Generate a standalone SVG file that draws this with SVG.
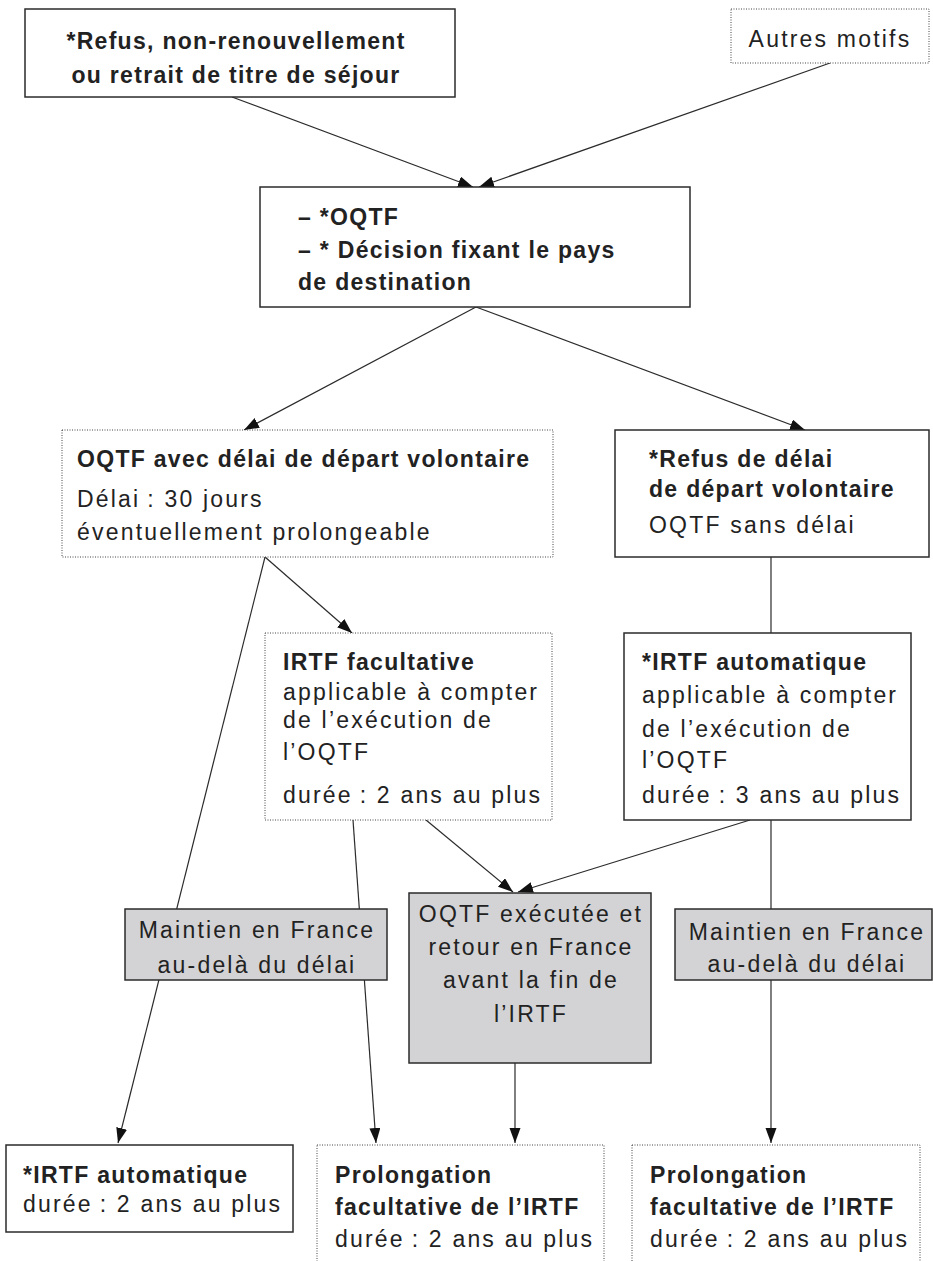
<svg xmlns="http://www.w3.org/2000/svg" width="933" height="1261" viewBox="0 0 933 1261">
<style>
  .solid { fill: #ffffff; stroke: #2b2b2b; stroke-width: 1.5; }
  .dotted { fill: #ffffff; stroke: #444; stroke-width: 1; stroke-dasharray: 1 1.5; }
  .gray { fill: #d3d3d5; stroke: #2b2b2b; stroke-width: 1.5; }
  .conn { stroke: #2b2b2b; stroke-width: 1.2; fill: none; }
  text { font-family: "Liberation Sans", Arial, sans-serif; font-size: 23px; fill: #222; }
  .b { font-weight: bold; letter-spacing: 1.3px; }
  .r { letter-spacing: 2.2px; }
  .c { text-anchor: middle; }
</style>
<defs>
  <marker id="arr" markerWidth="16" markerHeight="12" refX="15" refY="5.5" orient="auto" markerUnits="userSpaceOnUse">
    <path d="M0,0 L15,5.5 L0,11 Z" fill="#111"/>
  </marker>
</defs>
<g id="connectors">
  <line class="conn" x1="232" y1="97" x2="473" y2="187" marker-end="url(#arr)"/>
  <line class="conn" x1="830" y1="63" x2="479" y2="187" marker-end="url(#arr)"/>
  <line class="conn" x1="476" y1="307" x2="244" y2="430" marker-end="url(#arr)"/>
  <line class="conn" x1="476" y1="307" x2="805" y2="430" marker-end="url(#arr)"/>
  <line class="conn" x1="265" y1="557" x2="118" y2="1143" marker-end="url(#arr)"/>
  <line class="conn" x1="265" y1="557" x2="352" y2="633" marker-end="url(#arr)"/>
  <line class="conn" x1="771" y1="557" x2="771" y2="633"/>
  <line class="conn" x1="353" y1="820" x2="376" y2="1143" marker-end="url(#arr)"/>
  <line class="conn" x1="426" y1="820" x2="513" y2="892" marker-end="url(#arr)"/>
  <line class="conn" x1="750" y1="820" x2="518" y2="892" marker-end="url(#arr)"/>
  <line class="conn" x1="771" y1="820" x2="771" y2="1143" marker-end="url(#arr)"/>
  <line class="conn" x1="515" y1="1063" x2="515" y2="1143" marker-end="url(#arr)"/>
</g>
<g id="n-refus-titre">
  <rect class="solid" x="25" y="9" width="430" height="88"/>
  <text class="b c" x="236" y="49">*Refus, non-renouvellement</text>
  <text class="b c" x="236" y="83">ou retrait de titre de séjour</text>
</g>
<g id="n-autres-motifs">
  <rect class="dotted" x="731" y="9" width="198" height="54"/>
  <text class="r c" x="830" y="47">Autres motifs</text>
</g>
<g id="n-oqtf">
  <rect class="solid" x="260" y="187" width="430" height="120"/>
  <text class="b" x="298" y="225">– *OQTF</text>
  <text class="b" x="298" y="258">– * Décision fixant le pays</text>
  <text class="b" x="298" y="290">de destination</text>
</g>
<g id="n-oqtf-delai">
  <rect class="dotted" x="62" y="430" width="491" height="127"/>
  <text class="b" x="77" y="467">OQTF avec délai de départ volontaire</text>
  <text class="r" x="77" y="507">Délai&#8239;: 30 jours</text>
  <text class="r" x="77" y="540">éventuellement prolongeable</text>
</g>
<g id="n-refus-delai">
  <rect class="solid" x="615" y="430" width="314" height="127"/>
  <text class="b" x="649" y="467">*Refus de délai</text>
  <text class="b" x="649" y="497">de départ volontaire</text>
  <text class="r" x="649" y="533">OQTF sans délai</text>
</g>
<g id="n-irtf-facultative">
  <rect class="dotted" x="265" y="633" width="287" height="187"/>
  <text class="b" x="283" y="670">IRTF facultative</text>
  <text class="r" x="283" y="700">applicable à compter</text>
  <text class="r" x="283" y="728">de l’exécution de</text>
  <text class="r" x="283" y="760">l’OQTF</text>
  <text class="r" x="283" y="803">durée&#8239;: 2 ans au plus</text>
</g>
<g id="n-irtf-automatique">
  <rect class="solid" x="624" y="633" width="287" height="187"/>
  <text class="b" x="642" y="670">*IRTF automatique</text>
  <text class="r" x="642" y="703">applicable à compter</text>
  <text class="r" x="642" y="737">de l’exécution de</text>
  <text class="r" x="642" y="768">l’OQTF</text>
  <text class="r" x="642" y="803">durée&#8239;: 3 ans au plus</text>
</g>
<g id="n-maintien-gauche">
  <rect class="gray" x="125" y="909" width="262" height="71"/>
  <text class="r c" x="257" y="938">Maintien en France</text>
  <text class="r c" x="257" y="973">au-delà du délai</text>
</g>
<g id="n-oqtf-executee">
  <rect class="gray" x="409" y="893" width="242" height="170"/>
  <text class="r c" x="531" y="922">OQTF exécutée et</text>
  <text class="r c" x="531" y="955">retour en France</text>
  <text class="r c" x="531" y="988">avant la fin de</text>
  <text class="r c" x="531" y="1022">l’IRTF</text>
</g>
<g id="n-maintien-droite">
  <rect class="gray" x="675" y="909" width="257" height="71"/>
  <text class="r c" x="807" y="940">Maintien en France</text>
  <text class="r c" x="807" y="972">au-delà du délai</text>
</g>
<g id="n-irtf-auto-2ans">
  <rect class="solid" x="6" y="1145" width="287" height="87"/>
  <text class="b" x="23" y="1183">*IRTF automatique</text>
  <text class="r" x="23" y="1212">durée&#8239;: 2 ans au plus</text>
</g>
<g id="n-prolongation-1">
  <rect class="dotted" x="317" y="1145" width="287" height="130"/>
  <text class="b" x="335" y="1183">Prolongation</text>
  <text class="b" x="335" y="1215">facultative de l’IRTF</text>
  <text class="r" x="335" y="1247">durée&#8239;: 2 ans au plus</text>
</g>
<g id="n-prolongation-2">
  <rect class="dotted" x="632" y="1145" width="288" height="130"/>
  <text class="b" x="650" y="1183">Prolongation</text>
  <text class="b" x="650" y="1215">facultative de l’IRTF</text>
  <text class="r" x="650" y="1247">durée&#8239;: 2 ans au plus</text>
</g>
</svg>
